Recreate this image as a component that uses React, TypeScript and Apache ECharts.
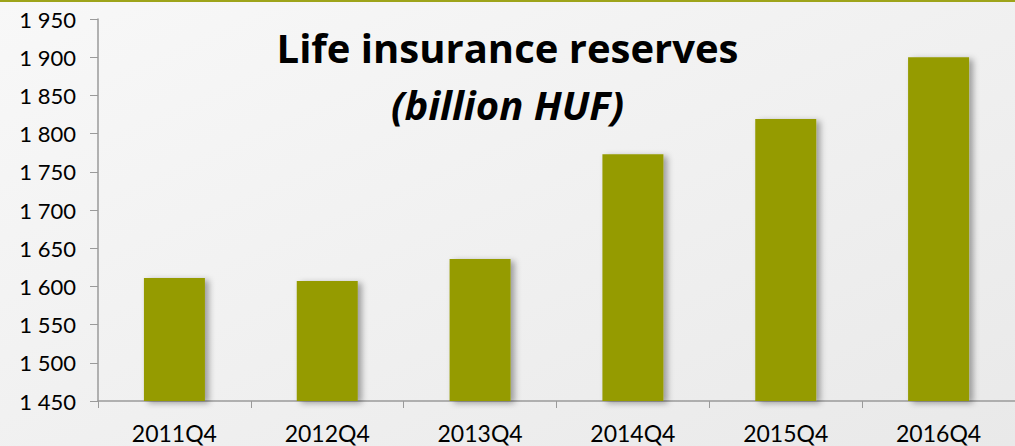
import React, { useEffect, useRef } from "react";
import * as echarts from "echarts";

const categories = ["2011Q4", "2012Q4", "2013Q4", "2014Q4", "2015Q4", "2016Q4"];
const reserves = [1611, 1607, 1636, 1773, 1819, 1900];
const titleLine1 = "Life insurance reserves";
const titleLine2 = "(billion HUF)";

export default function App() {
  const ref = useRef<HTMLDivElement>(null);
  useEffect(() => {
    if (!ref.current) return;
    const chart = echarts.init(ref.current, undefined, { renderer: "svg" });
    chart.setOption({
      animation: false,
      backgroundColor: {
        type: "linear",
        x: 0, y: 0, x2: 1, y2: 1,
        colorStops: [
          { offset: 0, color: "#f8f8f8" },
          { offset: 1, color: "#e9e9e9" },
        ],
      },
      grid: { left: 98, right: -5, top: 19, bottom: 45, containLabel: false },
      graphic: [
        { type: "rect", shape: { x: 0, y: 0, width: 1015, height: 2 }, style: { fill: "#9ea41a" } },
        {
          type: "text", left: "center", top: 27,
          style: { text: titleLine1, font: "bold 40px 'Open Sans', Lato, sans-serif", fill: "#000" },
        },
        {
          type: "text", left: "center", top: 84,
          style: { text: titleLine2, font: "italic bold 40px 'Open Sans', Lato, sans-serif", fill: "#000" },
        },
      ],
      xAxis: {
        type: "category",
        data: categories,
        axisLine: { lineStyle: { color: "#9a9a9a", width: 1.5 } },
        axisTick: { show: true, length: 7, lineStyle: { color: "#9a9a9a" } },
        axisLabel: { color: "#000", fontSize: 23, fontFamily: "Lato, sans-serif", margin: 20 },
      },
      yAxis: {
        type: "value",
        min: 1450,
        max: 1950,
        interval: 50,
        splitLine: { show: false },
        axisLine: { show: true, lineStyle: { color: "#9a9a9a", width: 1.5 } },
        axisTick: { show: true, length: 8, lineStyle: { color: "#9a9a9a" } },
        axisLabel: {
          color: "#000", fontSize: 22, fontFamily: "Lato, sans-serif", margin: 22,
          formatter: (v: number) => {
            const s = String(v);
            return s.slice(0, s.length - 3) + " " + s.slice(s.length - 3);
          },
        },
      },
      series: [
        {
          type: "bar",
          data: reserves,
          barWidth: 61,
          itemStyle: {
            color: "#959b00",
            shadowColor: "rgba(0,0,0,0.35)",
            shadowBlur: 6,
            shadowOffsetX: 4,
            shadowOffsetY: 2,
          },
        },
      ],
    });
    return () => chart.dispose();
  }, []);
  return (
    <div
      ref={ref}
      style={{ position: "fixed", left: 0, top: 0, width: 1015, height: 446 }}
    />
  );
}
